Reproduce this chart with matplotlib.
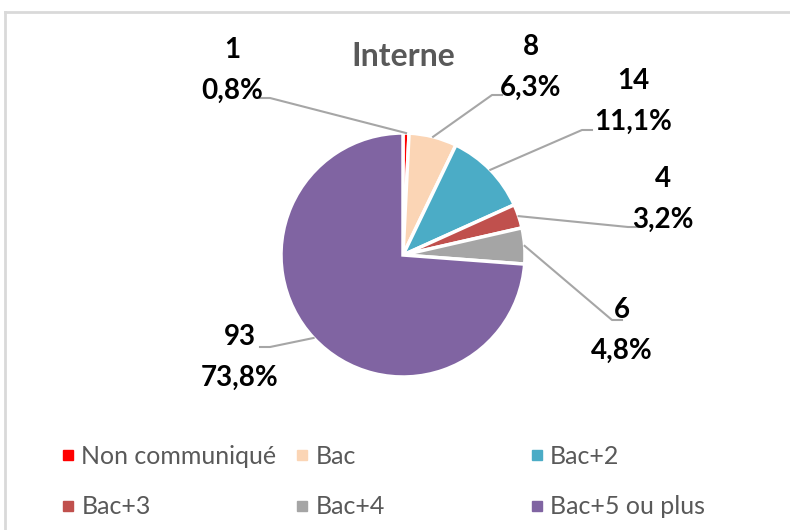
import numpy as np
import matplotlib.pyplot as plt
from matplotlib.lines import Line2D

categories = ["Non communiqué", "Bac", "Bac+2", "Bac+3", "Bac+4", "Bac+5 ou plus"]
counts = [1, 8, 14, 4, 6, 93]
colors = ["#FF0000", "#FBD5B5", "#4BACC6", "#C0504D", "#A5A5A5", "#8064A2"]

# label block centre and elbow of the leader line, in pixel units (y up)
label_pos = [(232, 459), (531, 462), (633, 428), (663, 330), (622, 199), (240, 172)]
elbows = [(270, 432), (492, 435), (582, 400), (628, 303), (612, 210), (270, 183)]

plt.rcParams["font.family"] = ["Lato", "DejaVu Sans"]

fig = plt.figure(figsize=(7.9, 5.3), dpi=100)
ax = fig.add_axes([0, 0, 1, 1])

cx, cy, r = 403, 275, 122
wedges, _ = ax.pie(counts, colors=colors, startangle=90, counterclock=False,
                   center=(cx, cy), radius=r, frame=True,
                   wedgeprops=dict(edgecolor="white", linewidth=2.5))
ax.set_xlim(0, 790)
ax.set_ylim(0, 530)
ax.set_aspect("equal")
ax.axis("off")

total = sum(counts)
cum = np.cumsum([0] + counts)
for i, v in enumerate(counts):
    mid = np.deg2rad(90 - 360 * (cum[i] + v / 2) / total)
    ex, ey = cx + r * np.cos(mid), cy + r * np.sin(mid)
    bx, by = elbows[i]
    lx, ly = label_pos[i]
    side = 1 if lx > bx else -1
    ax.plot([ex, bx, bx + side * 10], [ey, by, by], color="#A6A6A6", lw=1.5)
    pct = f"{100 * v / total:.1f}%".replace(".", ",")
    ax.text(lx, ly + 21, str(v), ha="center", va="center", fontsize=20, fontweight="bold")
    ax.text(lx, ly - 20, pct, ha="center", va="center", fontsize=20, fontweight="bold")

fig.text(403 / 790, 1 - 57 / 530, "Interne", ha="center", va="center", fontsize=23,
         fontweight="bold", color="#595959")

# legend, three columns
col_x = [50, 284, 519]
for c in range(3):
    idx = [c, c + 3]
    handles = [Line2D([], [], marker="s", ls="", markersize=7.5, color=colors[j]) for j in idx]
    fig.legend(handles, [categories[j] for j in idx], loc="upper left",
               bbox_to_anchor=(col_x[c] / 790, 1 - 435 / 530), frameon=False,
               fontsize=18, labelcolor="#595959", handlelength=0.6,
               handletextpad=0.25, labelspacing=1.1, borderaxespad=0)

# frame of the chart area
fig.add_artist(Line2D([5 / 790, 1], [1 - 12 / 530] * 2, color="#D9D9D9", lw=2))
fig.add_artist(Line2D([5 / 790] * 2, [0, 1 - 12 / 530], color="#D9D9D9", lw=2))

fig.savefig("out.png", dpi=100)
